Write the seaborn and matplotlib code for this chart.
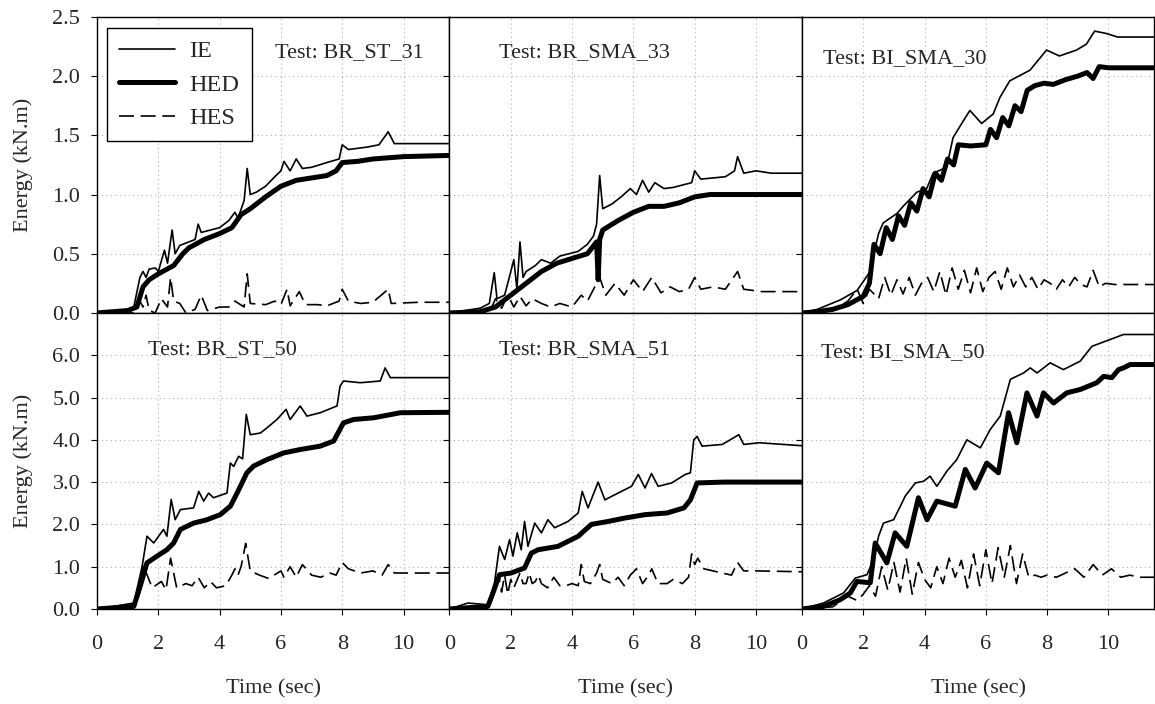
# Energy time histories, 6 shake-table tests
import numpy as np
import pandas as pd
import matplotlib
matplotlib.use("Agg")
import matplotlib.pyplot as plt
import seaborn as sns

# ---- data (time in sec, energy in kN.m) ----
tests = ["Test: BR_ST_31", "Test: BR_SMA_33", "Test: BI_SMA_30",
         "Test: BR_ST_50", "Test: BR_SMA_51", "Test: BI_SMA_50"]
series = ["IE", "HED", "HES"]

# BR_ST_31
t_ie_1 = [0, 0.5, 1.0, 1.2, 1.4, 1.5, 1.6, 1.7, 1.9, 2.0, 2.2, 2.3, 2.45, 2.55, 2.7, 3.0, 3.2, 3.3, 3.4, 3.7, 4.0,
          4.3, 4.5, 4.6, 4.8, 4.9, 5.0, 5.2, 5.5, 5.8, 6.0, 6.1, 6.3, 6.5, 6.7, 7.0, 7.5, 7.9, 8.0, 8.2, 8.8, 9.2,
          9.5, 9.7, 10.0, 11.5]
ie_1 = [0, 0.01, 0.03, 0.05, 0.3, 0.35, 0.3, 0.37, 0.38, 0.35, 0.53, 0.42, 0.70, 0.5, 0.57, 0.6, 0.62, 0.75, 0.68,
        0.7, 0.72, 0.78, 0.85, 0.8, 0.95, 1.22, 1.0, 1.02, 1.07, 1.15, 1.2, 1.28, 1.2, 1.3, 1.22, 1.23, 1.27, 1.3,
        1.42, 1.38, 1.4, 1.42, 1.53, 1.43, 1.43, 1.43]
t_hed_1 = [0, 1.0, 1.3, 1.5, 1.7, 2.0, 2.5, 2.8, 3.0, 3.5, 4.0, 4.4, 4.7, 5.0, 5.5, 6.0, 6.5, 7.0, 7.5, 7.8, 8.0,
           8.5, 9.0, 10.0, 11.5]
hed_1 = [0, 0.02, 0.05, 0.22, 0.28, 0.33, 0.4, 0.5, 0.55, 0.62, 0.67, 0.72, 0.83, 0.88, 0.98, 1.07, 1.12, 1.14,
         1.16, 1.2, 1.27, 1.28, 1.3, 1.32, 1.33]
t_hes_1 = [0, 1.2, 1.4, 1.5, 1.6, 1.7, 1.9, 2.1, 2.3, 2.4, 2.5, 2.7, 2.9, 3.2, 3.4, 3.6, 4.0, 4.3, 4.5, 4.8, 4.9,
           5.0, 5.5, 5.8, 6.0, 6.2, 6.3, 6.6, 6.8, 7.2, 7.5, 7.9, 8.0, 8.2, 8.6, 9.0, 9.5, 9.6, 10.5, 11.5]
hes_1 = [0, 0.0, 0.1, 0.05, 0.15, 0.02, 0.0, 0.12, 0.05, 0.3, 0.1, 0.08, 0.0, 0.03, 0.15, 0.02, 0.05, 0.05, 0.1,
         0.05, 0.33, 0.08, 0.07, 0.1, 0.07, 0.2, 0.06, 0.18, 0.07, 0.07, 0.06, 0.1, 0.2, 0.1, 0.08, 0.09, 0.2, 0.08,
         0.09, 0.09]

# BR_SMA_33
t_ie_2 = [0, 0.5, 1.0, 1.3, 1.46, 1.55, 1.8, 2.1, 2.2, 2.3, 2.4, 2.5, 2.8, 3.0, 3.3, 3.6, 3.9, 4.2, 4.5, 4.7, 4.8,
          4.9, 5.0, 5.3, 5.6, 5.9, 6.1, 6.3, 6.5, 6.7, 7.0, 7.3, 7.6, 7.9, 8.0, 8.2, 8.6, 9.0, 9.3, 9.4, 9.6, 10.0,
          10.5, 11.5]
ie_2 = [0, 0.02, 0.04, 0.08, 0.34, 0.12, 0.15, 0.45, 0.2, 0.6, 0.3, 0.35, 0.4, 0.45, 0.42, 0.48, 0.5, 0.52, 0.58,
        0.65, 0.75, 1.16, 0.88, 0.92, 0.98, 1.05, 1.0, 1.12, 1.02, 1.1, 1.05, 1.06, 1.08, 1.1, 1.2, 1.13, 1.14,
        1.15, 1.2, 1.32, 1.18, 1.2, 1.18, 1.18]
t_hed_2 = [0, 1.0, 1.5, 2.0, 2.5, 3.0, 3.5, 4.0, 4.5, 4.8, 4.85, 4.9, 5.0, 5.5, 6.0, 6.5, 7.0, 7.5, 8.0, 8.5, 9.0,
           11.5]
hed_2 = [0, 0.01, 0.05, 0.15, 0.25, 0.35, 0.42, 0.46, 0.5, 0.6, 0.28, 0.62, 0.7, 0.78, 0.85, 0.9, 0.9, 0.93, 0.98,
         1.0, 1.0, 1.0]
t_hes_2 = [0, 1.3, 1.5, 1.7, 1.9, 2.1, 2.3, 2.5, 2.7, 3.0, 3.3, 3.6, 4.0, 4.3, 4.5, 4.7, 4.9, 5.1, 5.4, 5.7, 6.0,
           6.3, 6.6, 6.9, 7.2, 7.5, 7.8, 8.0, 8.2, 8.6, 9.0, 9.4, 9.6, 10.2, 11.5]
hes_2 = [0, 0.0, 0.12, 0.04, 0.15, 0.05, 0.14, 0.06, 0.12, 0.08, 0.05, 0.08, 0.05, 0.15, 0.1, 0.2, 0.3, 0.15,
         0.25, 0.15, 0.28, 0.18, 0.3, 0.17, 0.22, 0.18, 0.2, 0.3, 0.2, 0.22, 0.2, 0.35, 0.2, 0.18, 0.18]

# BI_SMA_30
t_ie_3 = [0, 0.5, 1.25, 1.8, 2.2, 2.5, 2.65, 3.1, 3.3, 3.75, 4.07, 4.28, 4.72, 4.93, 5.26, 5.48, 5.86, 6.24, 6.46,
          6.78, 7.44, 7.98, 8.4, 8.96, 9.28, 9.55, 9.93, 10.3, 11.5]
ie_3 = [0, 0.03, 0.11, 0.19, 0.34, 0.67, 0.76, 0.84, 0.9, 1.02, 1.05, 1.18, 1.23, 1.48, 1.62, 1.71, 1.6, 1.68,
        1.82, 1.96, 2.05, 2.22, 2.17, 2.22, 2.27, 2.38, 2.36, 2.33, 2.33]
t_hed_3 = [0, 0.5, 1.0, 1.5, 2.0, 2.2, 2.35, 2.55, 2.75, 2.95, 3.15, 3.35, 3.55, 3.75, 3.95, 4.15, 4.35, 4.55, 4.75,
           4.95, 5.1, 5.5, 6.0, 6.15, 6.35, 6.55, 6.75, 6.95, 7.15, 7.35, 7.6, 7.9, 8.2, 8.6, 9.0, 9.3, 9.5, 9.7,
           10.0, 11.5]
hed_3 = [0, 0.01, 0.03, 0.07, 0.14, 0.25, 0.58, 0.5, 0.72, 0.62, 0.82, 0.74, 0.93, 0.86, 1.05, 0.98, 1.18, 1.12,
         1.3, 1.25, 1.42, 1.41, 1.42, 1.55, 1.48, 1.65, 1.58, 1.75, 1.7, 1.88, 1.92, 1.94, 1.93, 1.97, 2.0, 2.03,
         1.98, 2.08, 2.07, 2.07]
t_hes_3 = [0, 1.0, 1.5, 1.8, 2.0, 2.2, 2.5, 2.7, 2.9, 3.1, 3.3, 3.5, 3.7, 3.9, 4.1, 4.3, 4.5, 4.7, 4.9, 5.1, 5.3,
           5.5, 5.7, 5.9, 6.1, 6.3, 6.5, 6.7, 6.9, 7.1, 7.3, 7.5, 7.7, 7.9, 8.1, 8.3, 8.5, 8.7, 8.9, 9.1, 9.3, 9.5,
           9.7, 9.9, 10.2, 11.5]
hes_3 = [0, 0.02, 0.1, 0.2, 0.08, 0.2, 0.12, 0.3, 0.15, 0.28, 0.16, 0.3, 0.15, 0.25, 0.3, 0.18, 0.35, 0.15, 0.38,
         0.2, 0.36, 0.17, 0.38, 0.18, 0.3, 0.35, 0.2, 0.38, 0.22, 0.32, 0.22, 0.3, 0.2, 0.28, 0.25, 0.2, 0.28, 0.22,
         0.3, 0.24, 0.22, 0.36, 0.22, 0.25, 0.24, 0.24]

# BR_ST_50
t_ie_4 = [0, 0.54, 1.2, 1.47, 1.63, 1.85, 2.17, 2.28, 2.42, 2.55, 2.72, 3.15, 3.32, 3.48, 3.64, 3.8, 4.24, 4.35,
          4.46, 4.62, 4.75, 4.87, 5.0, 5.33, 5.54, 5.87, 6.17, 6.3, 6.63, 6.85, 7.28, 7.83, 7.93, 8.04, 8.59, 9.24,
          9.4, 9.57, 10.0, 11.5]
ie_4 = [0, 0.06, 0.14, 1.0, 1.72, 1.56, 1.88, 1.72, 2.59, 2.11, 2.35, 2.39, 2.78, 2.55, 2.74, 2.63, 2.74, 3.45,
        3.37, 3.61, 3.55, 4.6, 4.12, 4.16, 4.28, 4.48, 4.72, 4.48, 4.8, 4.56, 4.64, 4.8, 5.27, 5.39, 5.35, 5.39,
        5.7, 5.47, 5.47, 5.47]
t_hed_4 = [0, 1.2, 1.41, 1.63, 1.96, 2.28, 2.5, 2.72, 3.15, 3.59, 4.02, 4.35, 4.57, 4.89, 5.11, 5.54, 6.09, 6.63,
           7.28, 7.72, 8.04, 8.37, 9.02, 9.9, 11.5]
hed_4 = [0, 0.06, 0.54, 1.09, 1.25, 1.4, 1.56, 1.88, 2.03, 2.11, 2.23, 2.43, 2.74, 3.22, 3.38, 3.53, 3.69, 3.77,
         3.85, 3.97, 4.4, 4.48, 4.52, 4.64, 4.65]
t_hes_4 = [0, 1.2, 1.4, 1.5, 1.8, 2.1, 2.25, 2.4, 2.6, 2.9, 3.1, 3.3, 3.5, 3.7, 3.9, 4.2, 4.4, 4.5, 4.6, 4.7, 4.85,
           5.0, 5.3, 5.6, 6.0, 6.1, 6.3, 6.5, 6.7, 7.0, 7.3, 7.6, 7.8, 8.0, 8.2, 8.6, 9.0, 9.3, 9.5, 9.7, 11.5]
hes_4 = [0, 0.05, 0.4, 1.05, 0.5, 0.65, 0.45, 1.2, 0.5, 0.6, 0.55, 0.75, 0.5, 0.65, 0.5, 0.55, 0.8, 0.95, 0.8, 1.0,
         1.55, 0.9, 0.8, 0.72, 0.9, 0.75, 1.0, 0.75, 1.05, 0.8, 0.75, 0.85, 0.8, 1.1, 0.95, 0.85, 0.9, 0.8, 1.05,
         0.85, 0.85]

# BR_SMA_51
t_ie_5 = [0, 0.6, 1.25, 1.47, 1.63, 1.8, 1.96, 2.07, 2.21, 2.34, 2.45, 2.56, 2.78, 3.0, 3.21, 3.43, 3.87, 4.2,
          4.33, 4.52, 4.85, 5.07, 5.5, 5.94, 6.16, 6.38, 6.59, 6.81, 7.25, 7.69, 7.86, 7.97, 8.08, 8.24, 8.9, 9.44,
          9.6, 10.1, 11.5]
ie_5 = [0, 0.14, 0.1, 0.62, 1.48, 1.17, 1.64, 1.25, 1.8, 1.4, 2.07, 1.48, 2.03, 1.8, 2.11, 1.92, 2.07, 2.27, 2.78,
        2.39, 3.0, 2.58, 2.74, 2.9, 3.18, 2.86, 3.2, 2.9, 2.98, 3.18, 3.22, 4.0, 4.08, 3.85, 3.89, 4.12, 3.89, 3.93,
        3.86]
t_hed_5 = [0, 1.25, 1.42, 1.63, 2.01, 2.45, 2.67, 2.89, 3.54, 4.2, 4.63, 5.18, 5.72, 6.38, 7.1, 7.65, 7.86, 8.08,
           8.95, 11.5]
hed_5 = [0, 0.06, 0.38, 0.81, 0.85, 0.97, 1.32, 1.4, 1.48, 1.72, 2.0, 2.07, 2.15, 2.23, 2.27, 2.39, 2.58, 2.98,
         3.0, 3.0]
t_hes_5 = [0, 1.3, 1.5, 1.6, 1.7, 1.8, 1.9, 2.0, 2.1, 2.3, 2.4, 2.5, 2.6, 2.7, 2.8, 2.9, 3.0, 3.2, 3.4, 3.6, 3.8,
           4.0, 4.2, 4.3, 4.4, 4.6, 4.8, 4.9, 5.0, 5.3, 5.5, 5.7, 5.9, 6.1, 6.3, 6.5, 6.6, 6.8, 7.1, 7.3, 7.6, 7.8,
           7.9, 8.0, 8.1, 8.3, 8.6, 8.9, 9.2, 9.4, 9.6, 10.0, 11.5]
hes_5 = [0, 0.05, 0.5, 0.8, 0.4, 0.8, 0.35, 0.7, 0.5, 0.85, 0.6, 0.6, 0.85, 0.6, 0.65, 0.8, 0.6, 0.5, 0.75, 0.55,
         0.55, 0.6, 0.55, 1.05, 0.65, 0.6, 0.85, 1.05, 0.7, 0.6, 0.75, 0.55, 0.8, 0.95, 0.6, 0.8, 0.95, 0.6, 0.6,
         0.7, 0.6, 0.75, 1.3, 1.05, 1.2, 0.95, 0.9, 0.85, 0.8, 1.1, 0.9, 0.9, 0.88]

# BI_SMA_50
t_ie_6 = [0, 0.7, 1.36, 1.74, 2.12, 2.34, 2.5, 2.66, 2.99, 3.21, 3.37, 3.7, 3.97, 4.18, 4.4, 4.73, 5.05, 5.38,
          5.82, 6.14, 6.47, 6.8, 7.23, 7.45, 7.67, 8.1, 8.53, 9.08, 9.46, 10.05, 10.49, 11.5]
ie_6 = [0, 0.14, 0.38, 0.73, 0.81, 1.17, 1.72, 2.03, 2.11, 2.43, 2.67, 2.98, 3.02, 3.14, 2.9, 3.26, 3.53, 4.0,
        3.81, 4.24, 4.56, 5.43, 5.58, 5.7, 5.58, 5.82, 5.66, 5.86, 6.21, 6.37, 6.49, 6.49]
t_hed_6 = [0, 0.7, 1.25, 1.58, 1.79, 2.23, 2.39, 2.77, 3.04, 3.42, 3.8, 4.08, 4.4, 5.0, 5.33, 5.65, 6.03, 6.41,
           6.74, 7.01, 7.34, 7.67, 7.88, 8.21, 8.64, 9.08, 9.62, 9.84, 10.11, 10.33, 10.49, 10.71, 11.5]
hed_6 = [0, 0.06, 0.22, 0.38, 0.65, 0.62, 1.56, 1.09, 1.8, 1.48, 2.63, 2.11, 2.55, 2.43, 3.3, 2.86, 3.45, 3.22,
         4.64, 3.93, 5.11, 4.56, 5.11, 4.87, 5.11, 5.19, 5.35, 5.5, 5.47, 5.66, 5.7, 5.78, 5.78]
t_hes_6 = [0, 1.0, 1.5, 1.8, 2.0, 2.2, 2.4, 2.6, 2.8, 3.0, 3.2, 3.4, 3.6, 3.8, 4.0, 4.2, 4.4, 4.6, 4.8, 5.0, 5.2,
           5.4, 5.6, 5.8, 6.0, 6.2, 6.4, 6.6, 6.8, 7.0, 7.2, 7.4, 7.6, 7.8, 8.0, 8.3, 8.6, 8.9, 9.2, 9.5, 9.8, 10.1,
           10.4, 10.7, 11.0, 11.5]
hes_6 = [0, 0.05, 0.3, 0.2, 0.35, 0.55, 0.3, 1.0, 0.45, 1.1, 0.4, 1.2, 0.35, 1.1, 0.7, 0.5, 1.0, 0.6, 1.2, 0.75,
         1.15, 0.5, 1.3, 0.55, 1.4, 0.6, 1.45, 0.75, 1.5, 0.6, 1.3, 0.75, 0.8, 0.75, 0.8, 0.75, 0.85, 0.95, 0.75,
         1.05, 0.8, 0.95, 0.75, 0.8, 0.75, 0.75]

curves = [
    [(t_ie_1, ie_1), (t_hed_1, hed_1), (t_hes_1, hes_1)],
    [(t_ie_2, ie_2), (t_hed_2, hed_2), (t_hes_2, hes_2)],
    [(t_ie_3, ie_3), (t_hed_3, hed_3), (t_hes_3, hes_3)],
    [(t_ie_4, ie_4), (t_hed_4, hed_4), (t_hes_4, hes_4)],
    [(t_ie_5, ie_5), (t_hed_5, hed_5), (t_hes_5, hes_5)],
    [(t_ie_6, ie_6), (t_hed_6, hed_6), (t_hes_6, hes_6)],
]

# text placement of the test names (axes fraction)
name_pos = [(0.505, 0.88), (0.14, 0.88), (0.06, 0.86), (0.145, 0.875), (0.14, 0.875), (0.055, 0.865)]

sns.set_style("white")
plt.rcParams['font.family'] = ['Liberation Serif', 'DejaVu Serif']
plt.rcParams['font.size'] = 16

line_kw = {"IE": dict(lw=1.2), "HED": dict(lw=3.6), "HES": dict(lw=1.2, dashes=(9, 4))}

fig, axes = plt.subplots(2, 3, figsize=(11.55, 7.04), dpi=100, sharex=True, sharey='row')
fig.subplots_adjust(left=0.084, right=0.9995, top=0.976, bottom=0.135, hspace=0, wspace=0)

for i, ax in enumerate(axes.flat):
    for name, (t, e) in zip(series, curves[i]):
        df = pd.DataFrame({"t": t, "e": e})
        kw = dict(line_kw[name])
        dashes = kw.pop("dashes", None)
        sns.lineplot(data=df, x="t", y="e", ax=ax, color="black", estimator=None, sort=False,
                     label=name, legend=False, **kw)
        if dashes is not None:
            ax.lines[-1].set_dashes(dashes)
    if ax.get_legend() is not None:
        ax.get_legend().remove()
    ax.text(name_pos[i][0], name_pos[i][1], tests[i], transform=ax.transAxes,
            fontsize=16, va="center", ha="left")
    ax.set_xlim(0, 11.5)
    ax.set_xticks([0, 2, 4, 6, 8, 10])
    ax.grid(True, color="#b0b0b0", ls=(0, (1, 3)), lw=0.8)
    for s in ax.spines.values():
        s.set_color("black")
        s.set_linewidth(1.0)
    ax.tick_params(direction="out", length=4, width=0.8, labelsize=16, pad=8,
                   bottom=True, left=True, color="black")
    ax.tick_params(axis="x", pad=15)
    ax.set_xlabel("")
    ax.set_ylabel("")

for ax in axes[0]:
    ax.set_ylim(0, 2.5)
axes[0, 0].set_yticks(np.arange(0, 2.51, 0.5))
for ax in axes[1]:
    ax.set_ylim(0, 7.0)
axes[1, 0].set_yticks(np.arange(0, 6.01, 1.0))
for ax in axes[:, 0]:
    ax.yaxis.set_major_formatter(matplotlib.ticker.FormatStrFormatter("%.1f"))
    ax.set_ylabel("Energy (kN.m)", fontsize=16, labelpad=14)
for ax in axes[1]:
    ax.set_xlabel("Time (sec)", fontsize=16, labelpad=18)

h, l = axes[0, 0].get_legend_handles_labels()
leg = axes[0, 0].legend(h, l, loc="upper left", bbox_to_anchor=(0.028, 0.962), borderaxespad=0,
                        frameon=True, fancybox=False, edgecolor="black", framealpha=1,
                        handlelength=2.3, handletextpad=0.6, labelspacing=0.47, fontsize=17.5,
                        borderpad=0.5)
leg.get_frame().set_linewidth(1.0)

fig.savefig("out.png", dpi=100)
